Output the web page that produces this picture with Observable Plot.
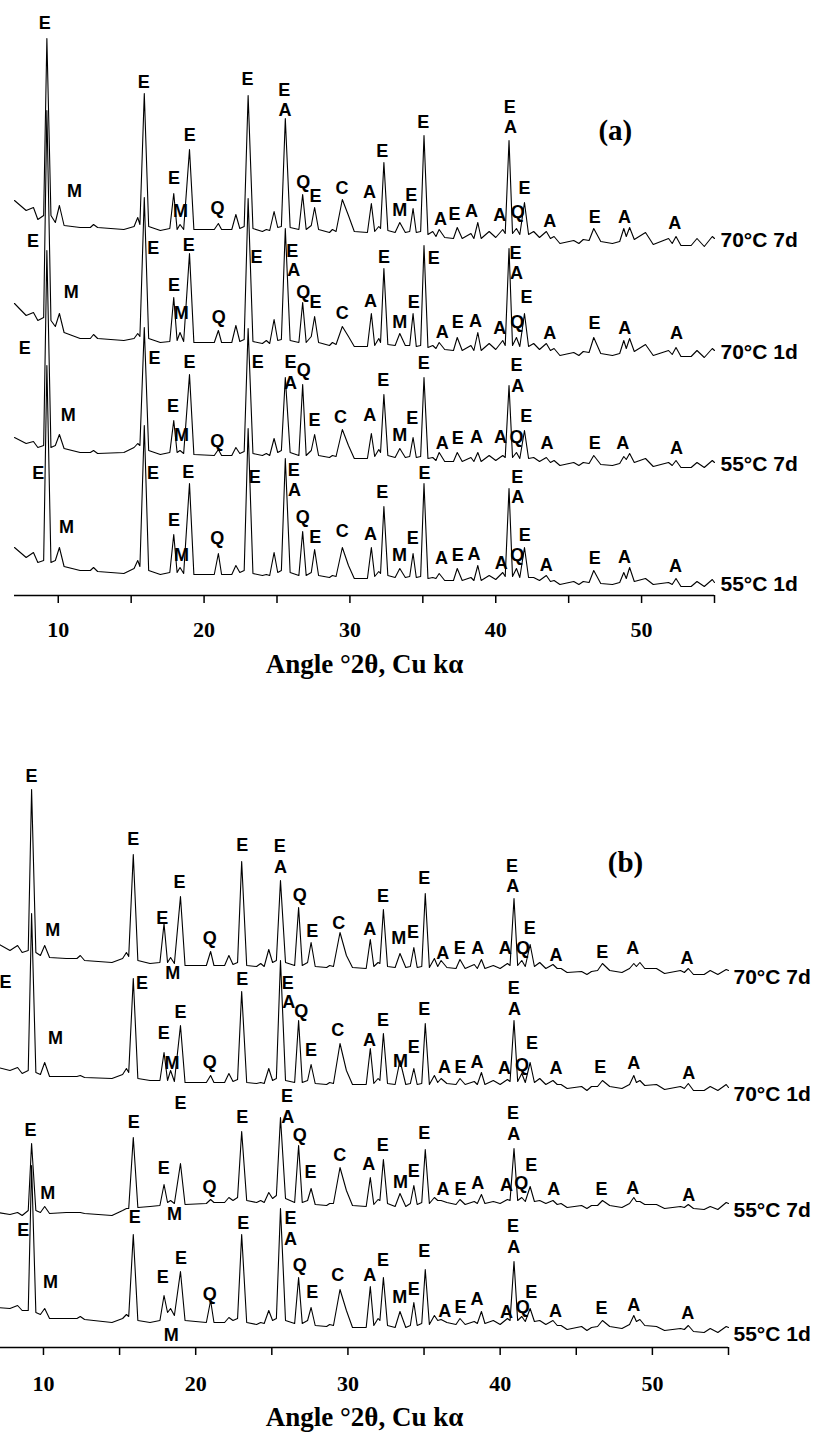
<!DOCTYPE html>
<html><head><meta charset="utf-8">
<script src="https://cdn.jsdelivr.net/npm/d3@7"></script>
<script src="https://cdn.jsdelivr.net/npm/@observablehq/plot@0.6"></script>
<style>
body{margin:0;background:#fff;}
svg{display:block;}
</style>
</head><body>
<script>
// shared 2θ vertices (degrees)
const theta = [7.0, 7.8, 8.3, 8.6, 9.0, 9.22, 9.5, 9.8, 10.08, 10.4,
 11.5, 12.2, 12.42, 12.7, 14.5, 15.2, 15.45, 15.6, 15.9, 16.2,
 17.0, 17.65, 17.92, 18.15, 18.35, 18.6, 19.0, 19.3, 20.7, 20.98,
 21.2, 21.9, 22.18, 22.45, 22.75, 23.02, 23.35, 24.0, 24.27, 24.5,
 24.8, 25.05, 25.3, 25.57, 25.9, 26.5, 26.76, 27.0, 27.35, 27.58,
 27.85, 28.6, 28.8, 29.05, 29.48, 29.9, 30.3, 31.2, 31.47, 31.7,
 31.98, 32.1, 32.33, 32.6, 33.1, 33.42, 33.8, 34.1, 34.33, 34.55,
 34.85, 35.08, 35.35, 35.68, 35.9, 36.12, 36.5, 37.1, 37.36, 37.7,
 38.3, 38.5, 38.77, 39.0, 39.55, 40.0, 40.48, 40.65, 40.91, 41.15,
 41.42, 41.65, 41.97, 42.25, 42.6, 43.0, 43.47, 43.75, 44.0, 44.4,
 45.35, 45.7, 46.0, 46.4, 46.72, 47.2, 48.0, 48.5, 48.78, 48.95,
 49.18, 49.5, 50.27, 50.8, 51.85, 52.1, 52.36, 52.7, 53.4, 53.8,
 54.3, 54.85, 55.0];

const samples = ["70°C 7d", "70°C 1d", "55°C 7d", "55°C 1d"];

// Panel (a) intensities (relative to each trace's own baseline)
const a70d7 = [28,18,21,9,13,190,13,6,23,3, 1,1,4,1,-1,2,11,4,135,2, -2,0,35,-1,4,-1,79,-1,-1,5,
 -1,-1,14,0,2,133,0,-3,-1,-2, 17,1,2,110,1,-1,34,-1,3,21, -1,-4,-1,-3,29,13,-3,-4,25,-3,
 2,0,66,-2,-4,6,-4,-3,20,-4, -3,93,-6,-3,-8,-1,-9,-10,1,-10, -5,-10,6,-10,-3,-9,-1,-5,88,-5,
 0,-6,26,-6,-3,-9,-3,-10,-8,-15, -12,-15,-11,-12,0,-13,-15,-13,0,-8, 1,-11,-4,-16,-10,-15,-8,-17,-17,-10,
 -18,-8,-10];
const a70d1 = [37,25,28,20,23,230,20,14,27,8, 2,2,6,2,0,2,7,4,143,2, -2,-1,43,0,8,-1,87,-2,-2,10,
 -2,-2,15,-1,1,142,-1,-3,0,-3, 21,0,1,112,0,-2,38,-2,4,24, -2,-5,-2,-4,14,4,-6,-6,27,-5,
 2,-2,72,-4,-5,7,-5,-5,27,-6, -5,95,-7,-5,-8,-2,-9,-10,3,-10, -5,-10,8,-10,-3,-9,0,-5,92,-5,
 3,-6,27,-6,-3,-9,-3,-10,-8,-15, -12,-15,-11,-12,3,-13,-15,-13,0,-8, 2,-11,-4,-15,-10,-14,-7,-16,-16,-10,
 -17,-8,-10];
const a55d7 = [16,10,12,6,8,203,6,8,19,5, 1,1,3,0,1,6,10,8,126,3, -1,1,33,1,3,0,79,-1,-2,4,
 -2,-2,6,0,2,125,0,-2,0,-2, 15,1,3,76,1,-2,69,-2,3,19, -2,-4,-2,-3,24,8,-5,-5,20,-3,
 4,1,59,-2,-4,5,-4,-3,16,-4, -3,76,-5,-4,-7,1,-8,-8,1,-8, -4,-8,1,-8,-2,-7,-2,-4,68,-4,
 1,-5,23,-5,-4,-8,-4,-9,-7,-12, -9,-12,-9,-10,-2,-11,-12,-10,-3,-6, 0,-9,-5,-13,-9,-12,-7,-14,-14,-9,
 -14,-7,-9];
const a55d1 = [26,16,21,11,13,208,11,13,26,7, 3,3,6,2,0,5,13,7,148,3, -1,1,39,1,6,0,90,-1,-1,20,
 -1,-1,8,1,3,145,0,-2,-1,-2, 21,1,3,115,1,-2,42,-2,1,24, -2,-4,-2,-3,26,8,-5,-5,26,-3,
 2,0,67,-2,-4,5,-4,-3,20,-4, -3,90,-5,-4,-5,0,-7,-7,5,-7, -4,-7,8,-7,-2,-6,1,-3,85,-3,
 5,-4,26,-4,-4,-7,-2,-8,-7,-11, -8,-11,-8,-9,3,-10,-11,-9,1,-5, 6,-8,-5,-11,-9,-11,-5,-13,-13,-8,
 -13,-6,-9];

// Panel (b) intensities
const b70d7 = [19,12,17,10,12,173,10,7,17,5, 4,4,7,2,0,4,10,6,108,2, -1,0,39,0,5,-1,66,-3,-3,11,
 -3,-3,7,-2,0,101,-3,-4,-1,-4, 13,0,2,82,0,-3,55,-3,0,20, -4,-5,-3,-4,30,7,-5,-6,23,-4,
 0,-1,53,-4,-5,9,-5,-4,15,-5, -4,69,-5,4,-4,2,-5,-6,3,-6, -2,-6,3,-6,-3,-6,-1,-3,64,-3,
 2,-4,18,-4,0,-6,-2,-6,-6,-10, -9,-12,-9,-8,-1,-8,-10,-6,-1,-4, 0,-6,-6,-11,-8,-10,-6,-12,-12,-8,
 -12,-7,-8];
const b70d1 = [11,8,11,5,8,165,6,4,16,2, 2,2,3,1,0,4,10,6,100,0, -2,-2,26,-2,8,-3,53,-4,-4,3,
 -4,-4,5,-3,-1,87,-4,-5,-4,-5, 10,-2,0,118,-2,-4,58,-4,-2,14, -5,-6,-4,-5,35,8,-6,-6,30,-5,
 0,-2,45,-5,-6,18,-6,-5,10,-6, -5,55,-6,3,-4,0,-5,-6,0,-6, -3,-6,6,-6,-2,-6,-1,-3,58,-3,
 5,-4,16,-4,0,-6,-2,-6,-6,-10, -8,-12,-8,-8,-2,-8,-10,-6,3,-4, -2,-7,-6,-11,-8,-10,-5,-12,-12,-8,
 -12,-6,-9];
const b55d7 = [3,1,3,0,5,72,5,3,9,2, 3,3,3,2,0,5,7,7,78,8, 9,10,31,13,15,12,52,11,12,16,
 13,13,18,15,18,84,15,13,15,13, 23,17,20,98,17,13,70,13,15,27, 11,10,12,12,48,25,10,9,38,11,
 16,15,56,12,9,22,9,12,30,11, 13,66,12,18,15,15,13,11,16,11, 14,12,21,12,14,12,16,15,67,15,
 18,14,29,14,15,12,15,11,12,8, 10,7,10,10,15,10,8,12,18,14, 14,11,11,7,9,8,11,7,6,9,
 6,13,12];
const b55d1 = [15,14,17,12,12,157,10,8,14,4, 4,4,6,3,0,4,8,6,88,2, 0,2,27,10,14,7,51,2,0,22,
 0,0,5,2,4,88,0,-2,0,-1, 12,2,4,114,2,-1,45,-1,2,15, -3,-4,-2,-3,33,12,-5,-5,36,-3,
 4,2,45,-3,-5,11,-5,-3,20,-3, -1,53,-2,7,2,3,0,-2,4,-2, 1,-1,11,-1,2,-2,4,2,61,2,
 6,1,14,1,2,-2,2,-3,-3,-7, -4,-8,-5,-4,2,-4,-6,-2,7,1, 3,-3,-4,-8,-6,-7,-3,-9,-10,-6,
 -10,-4,-5];

// stacking offsets of the four patterns (same units)
const offsetsA = [367, 255, 142, 22];
const offsetsB = [385, 269, 132, 25];

// phase labels: [phase, 2θ, level relative to trace baseline]
const labA70d7 = [["E",9.08,205],["M",11.11,37],["E",15.87,146],["E",17.93,50],["M",18.38,17],["E",19.02,93],["Q",20.92,20],["E",22.98,149],["E",25.49,138],["A",25.54,118],["Q",26.8,46],["E",27.64,32],["C",29.45,40],["A",31.34,36],["E",32.21,77],["M",33.42,18],["E",34.2,33],["E",35.02,106],["A",36.21,9],["E",37.17,14],["A",38.34,17],["A",40.28,13],["E",40.96,121],["A",41.01,101],["Q",41.51,16],["E",41.97,40],["A",43.71,7],["E",46.79,11],["A",48.83,11],["A",52.28,5]];
const labA70d1 = [["E",8.26,99],["M",10.89,48],["E",16.51,92],["E",17.93,55],["M",18.43,27],["E",18.95,95],["Q",21.01,23],["E",23.6,83],["E",26.04,89],["A",26.15,70],["Q",26.8,48],["E",27.64,38],["C",29.47,27],["A",31.41,39],["E",32.33,83],["M",33.42,18],["E",34.38,38],["E",35.75,82],["A",36.33,8],["E",37.4,18],["A",38.61,19],["A",40.28,12],["E",41.35,87],["A",41.42,67],["Q",41.47,18],["E",42.11,43],["A",43.71,7],["E",46.77,17],["A",48.85,12],["A",52.4,7]];
const labA55d7 = [["E",7.71,105],["M",10.68,38],["E",16.6,95],["E",17.86,47],["M",18.45,18],["E",19.0,91],["Q",20.9,12],["E",23.68,91],["E",25.93,91],["A",25.93,70],["Q",26.84,83],["E",27.57,33],["C",29.35,36],["A",31.36,38],["E",32.28,73],["M",33.42,18],["E",34.27,35],["E",35.07,90],["A",36.33,10],["E",37.4,15],["A",38.68,16],["A",40.33,16],["E",41.42,88],["A",41.51,67],["Q",41.42,16],["E",42.09,37],["A",43.52,10],["E",46.79,10],["A",48.71,10],["A",52.4,5]];
const labA55d1 = [["E",8.62,100],["M",10.57,46],["E",16.49,100],["E",17.93,53],["M",18.45,18],["E",18.91,101],["Q",20.9,35],["E",23.48,96],["E",26.15,103],["A",26.2,83],["Q",26.77,56],["E",27.62,36],["C",29.47,42],["A",31.41,39],["E",32.21,81],["M",33.4,18],["E",34.31,35],["E",35.12,100],["A",36.28,15],["E",37.4,18],["A",38.5,19],["A",40.37,10],["E",41.47,96],["A",41.51,76],["Q",41.47,18],["E",41.99,38],["A",43.46,8],["E",46.79,15],["A",48.83,16],["A",52.33,7]];

const labB70d7 = [["E",9.21,186],["M",10.61,32],["E",15.89,123],["E",17.8,44],["M",18.49,-11],["E",18.93,80],["Q",20.92,24],["E",23.05,117],["E",25.52,116],["A",25.57,95],["Q",26.83,67],["E",27.65,31],["C",29.4,39],["A",31.43,33],["E",32.31,66],["M",33.34,24],["E",34.28,30],["E",35.02,84],["A",36.23,9],["E",37.34,14],["A",38.53,14],["A",40.34,14],["E",40.78,96],["A",40.82,76],["Q",41.5,14],["E",41.94,34],["A",43.67,7],["E",46.7,10],["A",48.71,14],["A",52.28,4]];
const labB70d1 = [["E",7.5,96],["M",10.79,40],["E",16.48,95],["E",17.9,45],["M",18.45,15],["E",19.0,66],["Q",20.92,16],["E",23.05,99],["E",26.05,95],["A",26.11,76],["Q",26.93,67],["E",27.58,28],["C",29.33,48],["A",31.41,38],["E",32.31,58],["M",33.45,17],["E",34.32,31],["E",35.02,69],["A",36.34,11],["E",37.39,11],["A",38.48,16],["A",40.28,10],["E",40.89,90],["A",40.94,69],["Q",41.44,13],["E",42.1,35],["A",43.67,10],["E",46.58,11],["A",48.77,15],["A",52.39,5]];
const labB55d7 = [["E",9.15,85],["M",10.28,22],["E",15.93,93],["E",17.9,47],["M",18.6,1],["E",19.0,112],["Q",20.9,28],["E",23.05,98],["E",26.0,119],["A",26.05,98],["Q",26.83,80],["E",27.54,43],["C",29.46,60],["A",31.37,51],["E",32.29,70],["M",33.45,33],["E",34.32,44],["E",35.02,82],["A",36.25,26],["E",37.39,26],["A",38.53,32],["A",40.41,30],["E",40.85,102],["A",40.89,81],["Q",41.38,32],["E",42.05,50],["A",43.52,26],["E",46.65,26],["A",48.71,27],["A",52.39,20]];
const labB55d1 = [["E",8.67,92],["M",10.46,40],["E",16.0,105],["E",17.84,45],["M",18.39,-13],["E",19.04,64],["Q",20.92,28],["E",23.12,99],["E",26.22,104],["A",26.22,83],["Q",26.83,57],["E",27.65,30],["C",29.33,47],["A",31.43,47],["E",32.31,62],["M",33.4,25],["E",34.32,33],["E",35.02,71],["A",36.36,11],["E",37.39,15],["A",38.48,23],["A",40.41,10],["E",40.85,96],["A",40.89,75],["Q",41.48,15],["E",42.05,30],["A",43.63,11],["E",46.65,14],["A",48.77,17],["A",52.32,9]];

const tickValues = [10, 15, 20, 25, 30, 35, 40, 45, 50, 55];
const tickLabels = [10, 20, 30, 40, 50];
const axisTitle = "Angle °2θ, Cu kα";

const SERIF = "'Liberation Serif', 'Times New Roman', serif";
const SANS = "'Liberation Sans', Arial, sans-serif";

function panel(o) {
  const rows = [], lbls = [], ends = [];
  o.series.forEach((vals, i) => {
    vals.forEach((v, j) => rows.push({sample: samples[i], theta: theta[j], y: v + o.offsets[i]}));
    ends.push({s: samples[i], theta: theta[theta.length - 1], y: vals[vals.length - 1] + o.offsets[i]});
  });
  o.labels.forEach((arr, i) => arr.forEach(([t, th, v]) => lbls.push({t, theta: th, y: v + o.offsets[i]})));
  const svg = Plot.plot({
    width: 819, height: o.height,
    marginTop: 0, marginBottom: o.height - o.axisY, marginLeft: o.mLeft, marginRight: o.mRight,
    x: {domain: [7, 55], range: o.xRange, axis: null},
    y: {domain: [0, o.axisY], range: [o.axisY, 0], axis: null},
    style: {fontFamily: SANS, background: "white", overflow: "visible"},
    marks: [
      Plot.line(rows, {x: "theta", y: "y", z: "sample", stroke: "black", strokeWidth: 1.1}),
      Plot.text(lbls, {x: "theta", y: "y", text: "t", fontSize: 18, fontWeight: "bold", fill: "black"}),
      Plot.text(ends, {x: "theta", y: "y", text: "s", textAnchor: "start", dx: o.sdx, dy: o.sdy, fontSize: 21, fontWeight: "bold", fill: "black"}),
      Plot.ruleY([0], {x1: 7, x2: 55, stroke: "black", strokeWidth: 1.7}),
      Plot.ruleX(tickValues, {x: d => d, y1: 0, y2: -8, stroke: "black", strokeWidth: 1.5}),
      Plot.text(tickLabels, {x: d => d, y: 0, text: d => String(d), dy: o.tickDy, fontSize: 22, fontWeight: "bold", fontFamily: SERIF, fill: "black"}),
      Plot.text([axisTitle], {frameAnchor: "bottom", dy: o.titleDy, fontSize: 27, fontWeight: "bold", fontFamily: SERIF, fill: "black"}),
      Plot.text([o.tag], {x: o.tagX, y: o.tagY, fontSize: 29, fontWeight: "bold", fontFamily: SERIF, fill: "black"})
    ]
  });
  document.body.appendChild(svg);
}

panel({
  series: [a70d7, a70d1, a55d7, a55d1], labels: [labA70d7, labA70d1, labA55d7, labA55d1],
  offsets: offsetsA, height: 700, axisY: 595, mLeft: 14, mRight: 105, xRange: [14, 714],
  sdx: 6, sdy: 2, tickDy: 34, titleDy: 77, tag: "(a)", tagX: 48.2, tagY: 465
});
panel({
  series: [b70d7, b70d1, b55d7, b55d1], labels: [labB70d7, labB70d1, labB55d7, labB55d1],
  offsets: offsetsB, height: 741, axisY: 647, mLeft: 0, mRight: 91, xRange: [-2.7, 728],
  sdx: 5, sdy: 7, tickDy: 36, titleDy: 78, tag: "(b)", tagX: 48.23, tagY: 485
});
</script>
</body></html>
